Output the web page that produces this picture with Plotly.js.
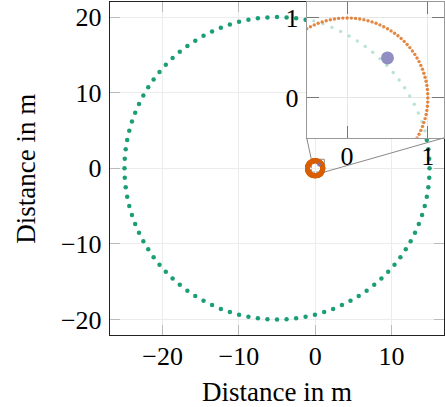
<!DOCTYPE html>
<html>
<head>
<meta charset="utf-8">
<script src="https://cdn.plot.ly/plotly-3.0.1.min.js"></script>
<style>html,body{margin:0;padding:0;background:#fff;}#chart{width:445px;height:407px;}</style>
</head>
<body>
<div id="chart"></div>
<script>
// ---- data ----
const greenCenter = [-5, 0];      // large trajectory circle (m)
const greenRadius = 20;
const greenCount = 100;
const orangeCenter = [0, 0];      // small circle around origin
const orangeRadius = 1;
const orangeCount = 120;
const paleCenter = [-1, -1];      // faint arc seen only in the zoom inset
const paleRadius = 2.05;
const paleCount = 108;
const targetX = [0.5];
const targetY = [0.5];
const mainXTicks = [-20, -10, 0, 10];
const mainYTicks = [-20, -10, 0, 10, 20];
const insetTicks = [0, 1];
const axisTitle = "Distance in m";

// ---- ranges ----
const mainXRange = [-26.9, 16.9];
const mainYRange = [-22.05, 22.0];
const insetRange = [-0.5, 1.2];
const insetDomX = [0.589, 1];
const insetDomY = [0.592, 1];

function circle(c, r, n) {
  const xs = [], ys = [];
  for (let i = 0; i < n; i++) {
    const t = 2 * Math.PI * i / n;
    xs.push(c[0] + r * Math.cos(t));
    ys.push(c[1] + r * Math.sin(t));
  }
  return [xs, ys];
}
const G = circle(greenCenter, greenRadius, greenCount);
const O = circle(orangeCenter, orangeRadius, orangeCount);
const P = circle(paleCenter, paleRadius, paleCount);

const green = '#1b9e77', orange = '#d95f02', purple = '#7570b3';
const font = {family: 'Liberation Serif, Times New Roman, serif', size: 26, color: '#000'};

const traces = [
  {x: G[0], y: G[1], mode: 'markers', marker: {color: green, size: 4.5}, xaxis: 'x', yaxis: 'y', hoverinfo: 'skip'},
  {x: O[0], y: O[1], mode: 'markers', marker: {color: orange, size: 5}, xaxis: 'x', yaxis: 'y', hoverinfo: 'skip'},
  {x: targetX, y: targetY, mode: 'markers', marker: {color: purple, size: 4, opacity: 0.8}, xaxis: 'x', yaxis: 'y', hoverinfo: 'skip'},
  {x: P[0], y: P[1], mode: 'markers', marker: {color: green, size: 3.4, opacity: 0.3}, xaxis: 'x2', yaxis: 'y2', hoverinfo: 'skip'},
  {x: O[0], y: O[1], mode: 'markers', marker: {color: orange, size: 3.4, opacity: 0.75}, xaxis: 'x2', yaxis: 'y2', hoverinfo: 'skip'},
  {x: targetX, y: targetY, mode: 'markers', marker: {color: purple, size: 13, opacity: 0.8}, xaxis: 'x2', yaxis: 'y2', hoverinfo: 'skip'}
];

function px(v) { return (v - mainXRange[0]) / (mainXRange[1] - mainXRange[0]); }
function py(v) { return (v - mainYRange[0]) / (mainYRange[1] - mainYRange[0]); }

const mainAxis = {
  showline: true, mirror: 'ticks', linecolor: '#222', linewidth: 1.2,
  ticks: 'inside', ticklen: 10, tickcolor: '#bbb', tickwidth: 1,
  showgrid: true, gridcolor: '#ececec', gridwidth: 1, zeroline: false,
  tickfont: font, fixedrange: true
};
const insetAxis = {
  showline: true, mirror: 'ticks', linecolor: '#999', linewidth: 1,
  ticks: 'inside', ticklen: 12, tickcolor: '#777', tickwidth: 1,
  showgrid: true, gridcolor: '#e6e6e6', gridwidth: 1, zeroline: false,
  tickfont: font, fixedrange: true,
  tickmode: 'array', tickvals: insetTicks, range: insetRange
};

const layout = {
  width: 445, height: 407,
  margin: {l: 110, r: 1, t: 2, b: 72},
  paper_bgcolor: '#fff', plot_bgcolor: '#fff',
  showlegend: false,
  font: font,
  xaxis: Object.assign({}, mainAxis, {range: mainXRange, tickmode: 'array', tickvals: mainXTicks, domain: [0, 1], anchor: 'y', ticklabelstandoff: -2}),
  yaxis: Object.assign({}, mainAxis, {range: mainYRange, tickmode: 'array', tickvals: mainYTicks, domain: [0, 1], anchor: 'x', ticklabelstandoff: 2}),
  xaxis2: Object.assign({}, insetAxis, {domain: insetDomX, anchor: 'y2', ticklabelstandoff: -5}),
  yaxis2: Object.assign({}, insetAxis, {domain: insetDomY, anchor: 'x2', ticklabelstandoff: 2}),
  shapes: [
    {type: 'rect', xref: 'x', yref: 'y', x0: insetRange[0], x1: insetRange[1], y0: insetRange[0], y1: insetRange[1],
     line: {color: '#888', width: 1}, fillcolor: 'rgba(0,0,0,0)', layer: 'below'},
    {type: 'line', xref: 'paper', yref: 'paper', x0: px(insetRange[0]), y0: py(insetRange[1]), x1: insetDomX[0], y1: insetDomY[0],
     line: {color: '#888', width: 1}, layer: 'above'},
    {type: 'line', xref: 'paper', yref: 'paper', x0: px(insetRange[1]), y0: py(insetRange[0]), x1: insetDomX[1], y1: insetDomY[0],
     line: {color: '#888', width: 1}, layer: 'above'}
  ],
  annotations: [
    {text: axisTitle, xref: 'paper', yref: 'paper', x: 0.5, y: -0.17, xanchor: 'center', yanchor: 'middle', showarrow: false, font: Object.assign({}, font, {size: 27})},
    {text: axisTitle, xref: 'paper', yref: 'paper', x: -0.254, y: 0.5, xanchor: 'center', yanchor: 'middle', textangle: -90, showarrow: false, font: Object.assign({}, font, {size: 27})}
  ]
};

Plotly.newPlot('chart', traces, layout, {displayModeBar: false, staticPlot: true});
</script>
</body>
</html>
